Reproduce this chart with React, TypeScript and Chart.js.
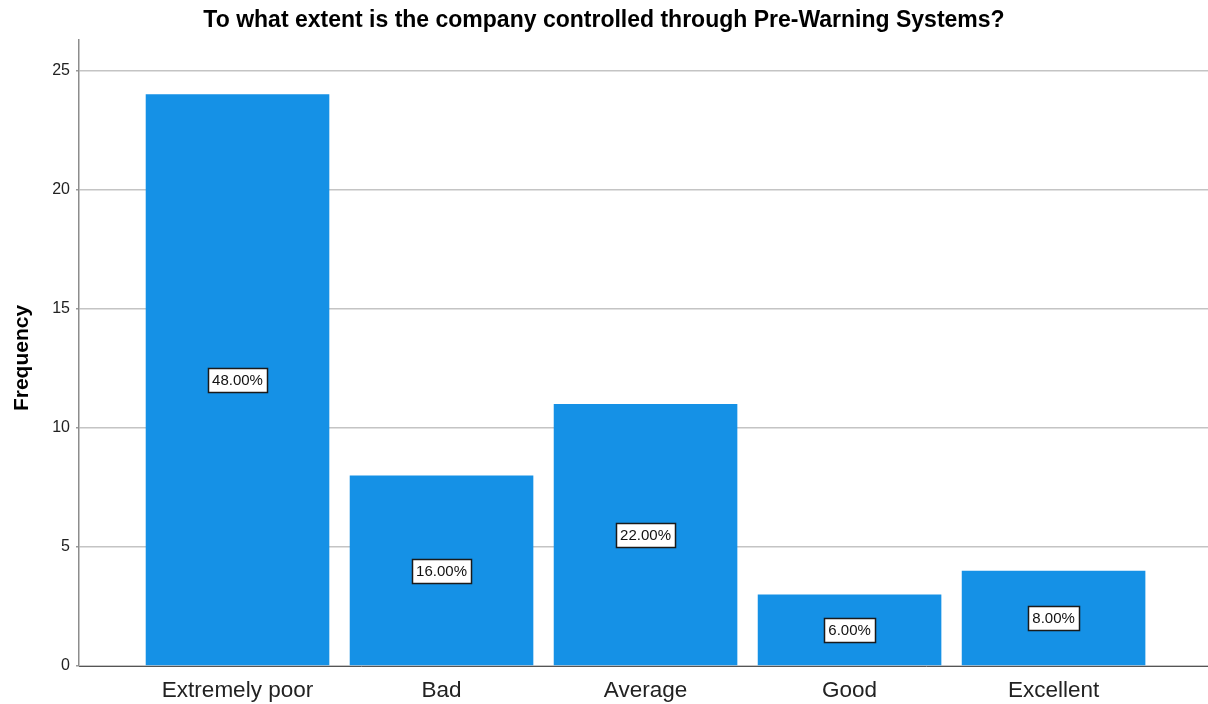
import React, { useEffect, useRef } from "react";
import { Chart, registerables } from "chart.js";

Chart.register(...registerables);

const categories = ["Extremely poor", "Bad", "Average", "Good", "Excellent"];
const frequencies = [24, 8, 11, 3, 4];
const percentLabels = ["48.00%", "16.00%", "22.00%", "6.00%", "8.00%"];
const yTickValues = [0, 5, 10, 15, 20, 25];

const chartTitle = "To what extent is the company controlled through Pre-Warning Systems?";
const yAxisTitle = "Frequency";

const FONT = "'Liberation Sans', Arial, sans-serif";

// Title, axis title and the boxed percentage labels drawn on top of the bars
const annotate = {
  id: "annotate",
  afterDatasetsDraw(chart: any) {
    const { ctx, chartArea } = chart;
    ctx.save();
    ctx.fillStyle = "#000";
    ctx.font = `bold 23px ${FONT}`;
    ctx.textAlign = "center";
    ctx.textBaseline = "middle";
    ctx.fillText(chartTitle, chart.width / 2, 21);

    ctx.save();
    ctx.translate(22, 358);
    ctx.rotate(-Math.PI / 2);
    ctx.font = `bold 21px ${FONT}`;
    ctx.fillText(yAxisTitle, 0, 0);
    ctx.restore();

    const meta = chart.getDatasetMeta(0);
    const yScale = chart.scales.y;
    ctx.font = `15px ${FONT}`;
    meta.data.forEach((bar: any, i: number) => {
      const cx = bar.x;
      const cy = yScale.getPixelForValue(frequencies[i] / 2);
      const text = percentLabels[i];
      const w = Math.ceil(ctx.measureText(text).width) + 8;
      const h = 24;
      const x0 = Math.round(cx - w / 2) + 0.5;
      const y0 = Math.round(cy - h / 2) + 0.5;
      ctx.fillStyle = "#ffffff";
      ctx.fillRect(x0, y0, w, h);
      ctx.strokeStyle = "#1a1a1a";
      ctx.lineWidth = 1.5;
      ctx.strokeRect(x0, y0, w, h);
      ctx.fillStyle = "#111";
      ctx.fillText(text, cx, cy + 1);
    });
    ctx.restore();
  },
};

export default function App() {
  const canvasRef = useRef<HTMLCanvasElement | null>(null);

  useEffect(() => {
    const canvas = canvasRef.current;
    if (!canvas) return;
    const chart = new Chart(canvas, {
      type: "bar",
      data: {
        datasets: [
          {
            data: frequencies.map((v, i) => ({ x: i, y: v })),
            backgroundColor: "#1591e6",
            borderWidth: 0,
            barPercentage: 0.9,
            categoryPercentage: 1,
          },
        ],
      },
      options: {
        animation: false,
        responsive: false,
        maintainAspectRatio: false,
        layout: { padding: { top: 40, left: 0, right: 0, bottom: 0 } },
        plugins: {
          legend: { display: false },
          title: { display: false },
          tooltip: { enabled: false },
        },
        scales: {
          x: {
            type: "linear",
            offset: false,
            min: -0.777,
            max: 4.757,
            afterBuildTicks: (s: any) => {
              s.ticks = categories.map((_, i) => ({ value: i }));
            },
            afterFit: (s: any) => {
              s.height = 38;
            },
            grid: { display: false, drawTicks: false },
            border: { display: true, color: "#555", width: 1 },
            ticks: {
              autoSkip: false,
              maxRotation: 0,
              padding: 11,
              color: "#222",
              font: { family: FONT, size: 22.5 },
              callback: (v: any) => categories[v] ?? "",
            },
          },
          y: {
            min: 0,
            max: 26.28,
            afterBuildTicks: (s: any) => {
              s.ticks = yTickValues.map((v) => ({ value: v }));
            },
            afterFit: (s: any) => {
              s.width = 79;
            },
            grid: {
              color: "#c4c4c4",
              lineWidth: 1.5,
              drawTicks: true,
              tickLength: 3,
              tickColor: "#999",
            },
            border: { display: true, color: "#8c8c8c", width: 1.5 },
            ticks: {
              padding: 6,
              color: "#222",
              font: { family: FONT, size: 16 },
            },
          },
        },
      },
      plugins: [annotate],
    } as any);
    return () => chart.destroy();
  }, []);

  return (
    <div style={{ position: "fixed", left: 0, top: 0, width: 1208, height: 704, background: "#fff" }}>
      <canvas ref={canvasRef} width={1208} height={704} style={{ display: "block" }} />
    </div>
  );
}
